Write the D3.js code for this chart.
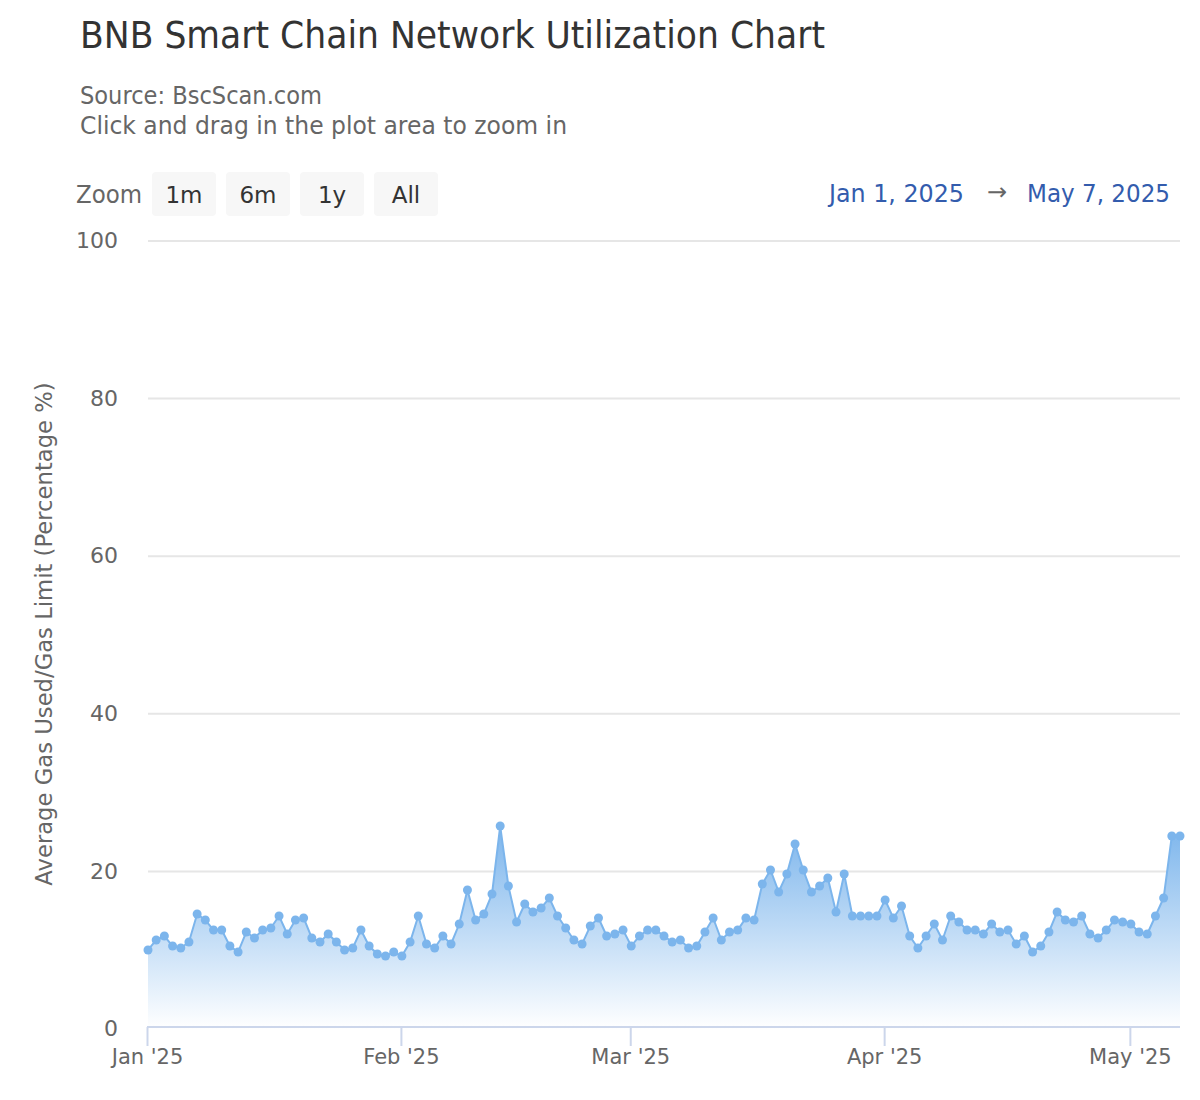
<!DOCTYPE html>
<html>
<head>
<meta charset="utf-8">
<title>BNB Smart Chain Network Utilization Chart</title>
<script src="https://cdn.jsdelivr.net/npm/d3@7"></script>
<style>
	html, body { margin: 0; background: #fff; }
	text { font-family: "DejaVu Sans", sans-serif; }
</style>
</head>
<body>
<svg id="chart" width="1200" height="1100"></svg>
<script>
var startDate = "2025-01-01";
var janValues = [10.03, 11.29, 11.80, 10.53, 10.28, 11.04, 14.59, 13.83, 12.56, 12.56, 10.53, 9.77, 12.31, 11.55, 12.56, 12.82, 14.34, 12.06, 13.83, 14.09, 11.55, 11.04, 12.06, 11.04, 10.03, 10.28, 12.56, 10.53, 9.52, 9.26, 9.77];
var febValues = [9.26, 11.04, 14.34, 10.79, 10.28, 11.80, 10.79, 13.32, 17.64, 13.83, 14.59, 17.13, 25.76, 18.15, 13.58, 15.86, 14.85, 15.36, 16.62, 14.34, 12.82, 11.29, 10.79, 13.07, 14.09, 11.80, 12.06, 12.56];
var marValues = [10.53, 11.80, 12.56, 12.56, 11.80, 11.04, 11.29, 10.28, 10.53, 12.31, 14.09, 11.29, 12.31, 12.56, 14.09, 13.83, 18.40, 20.18, 17.39, 19.67, 23.48, 20.18, 17.39, 18.15, 19.16, 14.85, 19.67, 14.34, 14.34, 14.34, 14.34];
var aprValues = [16.37, 14.09, 15.61, 11.80, 10.28, 11.80, 13.32, 11.29, 14.34, 13.58, 12.56, 12.56, 12.06, 13.32, 12.31, 12.56, 10.79, 11.80, 9.77, 10.53, 12.31, 14.85, 13.83, 13.58, 14.34, 12.06, 11.55, 12.56, 13.83, 13.58];
var mayValues = [13.32, 12.31, 12.06, 14.34, 16.62, 24.49, 24.49];
var yTicks = [0, 20, 40, 60, 80, 100];
var monthTicks = ["2025-01-01", "2025-02-01", "2025-03-01", "2025-04-01", "2025-05-01"];
var monthLabels = ["Jan '25", "Feb '25", "Mar '25", "Apr '25", "May '25"];
var zoomButtons = ["1m", "6m", "1y", "All"];

var values = janValues.concat(febValues, marValues, aprValues, mayValues);
var parseDay = d3.utcParse("%Y-%m-%d");
var series = values.map(function(v, i) {
	return { date: d3.utcDay.offset(parseDay(startDate), i), value: v };
});

var svg = d3.select("#chart");
var BLUE = "#7cb5ec";

var x = d3.scaleUtc()
	.domain(d3.extent(series, function(d) { return d.date; }))
	.range([148, 1180]);
var y = d3.scaleLinear().domain([0, 100]).range([1029, 241]);

/*
Header texts, squeezed to the widths of the original font
*/
function fitted(px, py, size, color, width, label) {
	return svg.append("text").attr("x", px).attr("y", py).attr("font-size", size).attr("fill", color)
		.attr("textLength", width).attr("lengthAdjust", "spacingAndGlyphs").text(label);
}
fitted(80, 48, 36.5, "#333", 745, "BNB Smart Chain Network Utilization Chart");
fitted(80, 104, 24, "#666", 242, "Source: BscScan.com");
fitted(80, 134, 24, "#666", 487, "Click and drag in the plot area to zoom in");

/*
Range selector
*/
fitted(76, 203, 24, "#666", 66, "Zoom");
var buttons = svg.selectAll(".button").data(zoomButtons).enter().append("g")
	.attr("class", "button")
	.attr("transform", function(d, i) { return "translate(" + (152 + i * 74) + ",172)"; });
buttons.append("rect").attr("width", 64).attr("height", 44).attr("rx", 4).attr("fill", "#f7f7f7");
buttons.append("text").attr("x", 32).attr("y", 31).attr("text-anchor", "middle").attr("font-size", 23).attr("fill", "#333").text(function(d) { return d; });

fitted(829, 202, 24, "#335cad", 135, "Jan 1, 2025");
svg.append("text").attr("x", 987).attr("y", 200).attr("font-size", 24).attr("fill", "#666").text("→");
fitted(1027, 202, 24, "#335cad", 143, "May 7, 2025");

/*
Y axis with gridlines
*/
var yAxis = svg.append("g")
	.attr("transform", "translate(148,0)")
	.call(d3.axisLeft(y).tickValues(yTicks).tickSize(0).tickPadding(30).tickFormat(d3.format("d")));
yAxis.attr("font-family", null);
yAxis.select(".domain").remove();
yAxis.selectAll("text").attr("font-size", 22).attr("fill", "#666").attr("dy", "0.3em");

svg.append("g").selectAll("line").data(yTicks.filter(function(t) { return t > 0; })).enter().append("line")
	.attr("x1", 148).attr("x2", 1180)
	.attr("y1", function(d) { return y(d); }).attr("y2", function(d) { return y(d); })
	.attr("stroke", "#e6e6e6").attr("stroke-width", 2);

svg.append("text")
	.attr("transform", "translate(52,634) rotate(-90)")
	.attr("text-anchor", "middle").attr("font-size", 22.7).attr("fill", "#666")
	.text("Average Gas Used/Gas Limit (Percentage %)");

/*
Area and line
*/
var defs = svg.append("defs");
var gradient = defs.append("linearGradient").attr("id", "areaFill").attr("x1", 0).attr("y1", 0).attr("x2", 0).attr("y2", 1);
gradient.append("stop").attr("offset", "0%").attr("stop-color", BLUE);
gradient.append("stop").attr("offset", "100%").attr("stop-color", "#fff");

var area = d3.area()
	.x(function(d) { return x(d.date); })
	.y0(y(0))
	.y1(function(d) { return y(d.value); });
var line = d3.line()
	.x(function(d) { return x(d.date); })
	.y(function(d) { return y(d.value); });

svg.append("path").datum(series).attr("d", area).attr("fill", "url(#areaFill)");
svg.append("path").datum(series).attr("d", line).attr("fill", "none").attr("stroke", BLUE).attr("stroke-width", 2);
svg.append("g").selectAll("circle").data(series).enter().append("circle")
	.attr("cx", function(d) { return x(d.date); })
	.attr("cy", function(d) { return y(d.value); })
	.attr("r", 4.5)
	.attr("fill", BLUE);

/*
X axis
*/
var xAxis = svg.append("g")
	.attr("transform", "translate(0,1027)")
	.call(d3.axisBottom(x)
		.tickValues(monthTicks.map(parseDay))
		.tickSize(19)
		.tickPadding(3)
		.tickFormat(function(d, i) { return monthLabels[i]; }));
xAxis.attr("font-family", null);
xAxis.select(".domain").attr("d", "M147,0H1180").attr("stroke", "#ccd6eb").attr("stroke-width", 2);
xAxis.selectAll(".tick line").attr("stroke", "#ccd6eb").attr("stroke-width", 2).attr("transform", "translate(-1,0)");
xAxis.selectAll(".tick text").attr("font-size", 21).attr("fill", "#666").attr("transform", "translate(-1,0)");
</script>
</body>
</html>
